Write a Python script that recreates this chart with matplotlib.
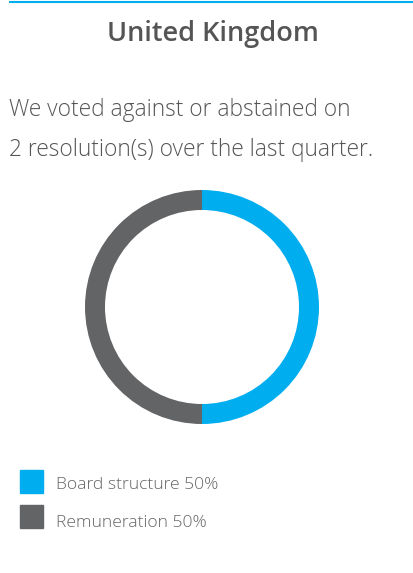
import matplotlib
matplotlib.use("Agg")
import matplotlib.pyplot as plt
from matplotlib.patches import Rectangle
from matplotlib.lines import Line2D

title = "United Kingdom"
subtitle_lines = ["We voted against or abstained on", "2 resolution(s) over the last quarter."]
categories = ["Board structure", "Remuneration"]
values = [50, 50]
colors = ["#00AEEF", "#636466"]

W, H = 414, 573
fig = plt.figure(figsize=(W / 100, H / 100), dpi=100)
fig.patch.set_facecolor("white")

def fx(x):
    return x / W

def fy(y):
    return 1 - y / H

# top rule
fig.add_artist(Line2D([fx(10), fx(414)], [fy(1.5), fy(1.5)], color="#00AEEF", lw=1.5))

fig.text(fx(213), fy(34), title, ha="center", va="center", fontsize=19.5,
         fontweight="semibold", color="#555555", family="Open Sans")

for i, line in enumerate(subtitle_lines):
    fig.text(fx(9), fy(110 + 40 * i), line, ha="left", va="center", fontsize=16.4,
             fontweight="light", color="#555555", family="Open Sans")

# donut
cx, cy, r = 202, 307, 117
ax = fig.add_axes([fx(cx - r), fy(cy + r), 2 * r / W, 2 * r / H])
ax.pie(values, colors=colors, startangle=90, counterclock=False,
       wedgeprops=dict(width=20 / r, edgecolor="none"), radius=1)
ax.set_xlim(-1, 1)
ax.set_ylim(-1, 1)
ax.set_aspect("equal")
ax.axis("off")

# legend
text_y = [485, 523]
for i, (cat, v, c) in enumerate(zip(categories, values, colors)):
    ytop = 470 + 35 * i
    fig.add_artist(Rectangle((fx(20), fy(ytop + 23)), 23 / W, 23 / H, color=c,
                             transform=fig.transFigure))
    fig.text(fx(56), fy(text_y[i]), f"{cat} {v}%", ha="left", va="center",
             fontsize=12.6, fontweight="light", color="#666666", family="Open Sans")

fig.savefig("out.png", dpi=100)
